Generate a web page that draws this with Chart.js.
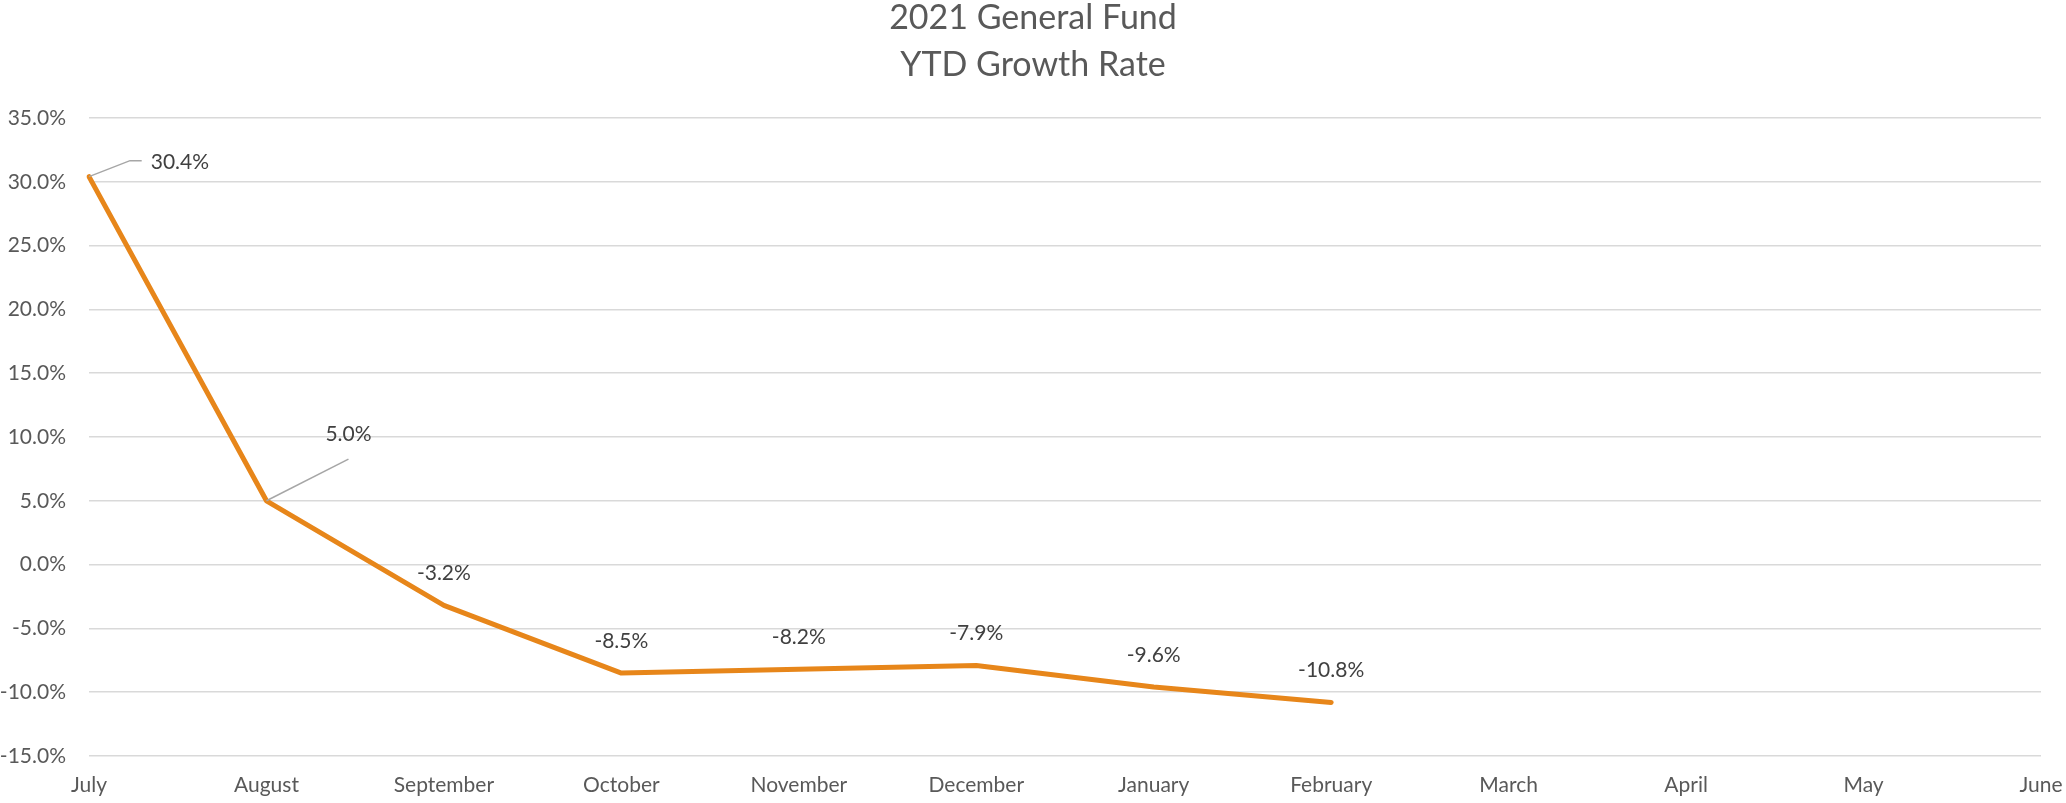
<!DOCTYPE html>
<html>
<head>
<meta charset="utf-8">
<script src="https://cdn.jsdelivr.net/npm/chart.js@4/dist/chart.umd.min.js"></script>
<style>
  html, body { margin: 0; padding: 0; background: #ffffff; }
  #wrap { width: 2066px; height: 803px; position: relative; }
</style>
</head>
<body>
<div id="wrap"><canvas id="c"></canvas></div>
<script>
// ---- data ----
const titleLines = ["2021 General Fund", "YTD Growth Rate"];
const months = ["July", "August", "September", "October", "November", "December",
                "January", "February", "March", "April", "May", "June"];
const growthRate = [30.4, 5.0, -3.2, -8.5, -8.2, -7.9, -9.6, -10.8, null, null, null, null];
const yMin = -15, yMax = 35, yStep = 5;

// ---- styles ----
const FONT = "Lato, 'Liberation Sans', sans-serif";
const LINE_COLOR = "#E7861A";
const GRID_COLOR = "#D9D9D9";
const TEXT_COLOR = "#595959";
const LABEL_COLOR = "#404040";
const LEADER_COLOR = "#A6A6A6";
const TICK_SIZE = 21;

// label placement per point (index -> placement), default is centered above
const labelPlacement = {
  0: { dx: 61.7, dy: -14, align: "left", leader: [[41, -16], [52.7, -16]] },
  1: { dx: 82, dy: -67, align: "center", leader: [[82, -41.6]] }
};
const defaultLabelOffsetY = -32;

const dataLabelPlugin = {
  id: "dataLabels",
  afterDatasetsDraw(chart) {
    const ctx = chart.ctx;
    const meta = chart.getDatasetMeta(0);
    const values = chart.data.datasets[0].data;
    ctx.save();
    ctx.font = TICK_SIZE + "px " + FONT;
    ctx.textBaseline = "middle";
    meta.data.forEach((pt, i) => {
      const v = values[i];
      if (v === null || v === undefined) return;
      const p = labelPlacement[i];
      const x = pt.x, y = pt.y;
      const txt = v.toFixed(1) + "%";
      if (p) {
        ctx.strokeStyle = LEADER_COLOR;
        ctx.lineWidth = 1.5;
        ctx.beginPath();
        ctx.moveTo(x, y);
        p.leader.forEach(([lx, ly]) => ctx.lineTo(x + lx, y + ly));
        ctx.stroke();
        ctx.fillStyle = LABEL_COLOR;
        ctx.textAlign = p.align;
        ctx.fillText(txt, x + p.dx, y + p.dy);
      } else {
        ctx.fillStyle = LABEL_COLOR;
        ctx.textAlign = "center";
        ctx.fillText(txt, x, y + defaultLabelOffsetY);
      }
    });
    ctx.restore();
  }
};

new Chart(document.getElementById("c"), {
  type: "line",
  data: {
    labels: months,
    datasets: [{
      label: "YTD Growth Rate",
      data: growthRate,
      borderColor: LINE_COLOR,
      backgroundColor: LINE_COLOR,
      borderWidth: 5,
      borderCapStyle: "round",
      borderJoinStyle: "round",
      pointRadius: 0,
      pointHoverRadius: 0,
      tension: 0,
      spanGaps: false,
      fill: false
    }]
  },
  options: {
    responsive: true,
    maintainAspectRatio: false,
    animation: false,
    devicePixelRatio: 1,
    layout: { padding: { left: 0, right: 0, top: 0, bottom: 0 } },
    plugins: {
      legend: { display: false },
      tooltip: { enabled: false },
      title: {
        display: true,
        text: titleLines,
        color: TEXT_COLOR,
        font: { family: FONT, size: 34, weight: "normal", lineHeight: 1.373 },
        padding: { top: -5, bottom: 29.6 }
      }
    },
    scales: {
      x: {
        type: "category",
        offset: false,
        grid: { display: false, drawTicks: false },
        border: { display: false },
        ticks: {
          color: TEXT_COLOR,
          font: { family: FONT, size: TICK_SIZE },
          padding: 17,
          maxRotation: 0,
          minRotation: 0,
          autoSkip: false
        },
        afterFit(scale) { scale.height = 47; scale.paddingRight = 25; }
      },
      y: {
        min: yMin,
        max: yMax,
        grid: { color: GRID_COLOR, lineWidth: 1.5, drawTicks: false },
        border: { display: false },
        ticks: {
          stepSize: yStep,
          color: TEXT_COLOR,
          font: { family: FONT, size: TICK_SIZE },
          padding: 23,
          callback: (v) => Number(v).toFixed(1) + "%"
        },
        afterFit(scale) { scale.width = 89; }
      }
    }
  },
  plugins: [dataLabelPlugin]
});
</script>
</body>
</html>
